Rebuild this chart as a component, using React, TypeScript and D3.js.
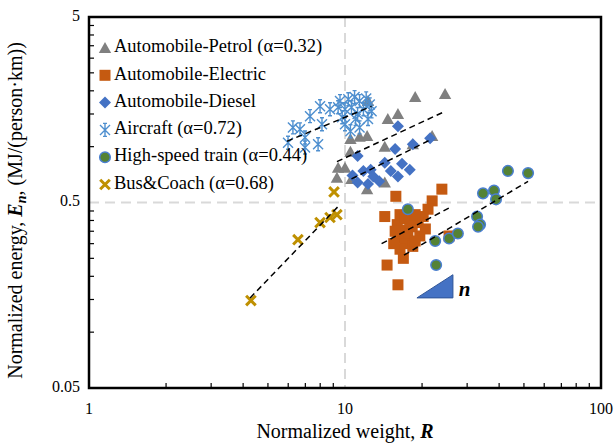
import * as d3 from "d3";

// [R, E] pairs
const petrol: [number, number][] = [
  [12.3, 1.76], [18.8, 1.85], [24.6, 1.92], [14.7, 1.41], [16.1, 1.5], [10.5, 1.1],
  [11.4, 1.13], [12.2, 1.14], [14.3, 1.0], [18.4, 1.03], [21.9, 1.14], [10.5, 0.94],
  [9.4, 0.77], [10.0, 0.77], [9.3, 0.68], [14.3, 0.64], [12.2, 0.59], [10.6, 0.67],
];
const electric: [number, number][] = [
  [23.9, 0.59], [15.8, 0.54], [14.3, 0.42], [21.9, 0.51], [21.1, 0.46], [20.2, 0.42],
  [19.3, 0.39], [18.3, 0.37], [16.0, 0.38], [16.7, 0.355], [17.6, 0.33], [16.1, 0.32],
  [17.2, 0.3], [18.4, 0.29], [19.6, 0.33], [16.4, 0.28], [16.9, 0.25], [15.5, 0.3],
  [14.6, 0.23], [16.1, 0.18], [25.5, 0.33], [20.6, 0.36], [16.4, 0.43], [17.9, 0.39],
  [15.7, 0.35], [18.8, 0.31], [17.2, 0.41], [18.8, 0.43],
];
const diesel: [number, number][] = [
  [16.1, 1.29], [21.5, 1.11], [18.4, 1.03], [15.7, 0.97], [11.2, 0.89], [16.7, 0.81],
  [17.9, 0.75], [14.3, 0.82], [15.1, 0.74], [16.1, 0.69], [10.7, 0.7], [11.8, 0.74],
  [12.6, 0.75], [12.9, 0.69], [13.6, 0.65], [11.2, 0.64], [12.3, 0.63],
];
const aircraft: [number, number][] = [
  [5.99, 1.05], [6.26, 1.27], [6.67, 1.24], [6.98, 1.12], [6.98, 0.99], [7.3, 1.46],
  [7.85, 1.03], [7.99, 1.65], [8.13, 1.32], [8.74, 1.59], [9.56, 1.76], [10.0, 1.59],
  [10.3, 1.8], [10.6, 1.63], [10.9, 1.85], [11.2, 1.5], [11.4, 1.76], [11.8, 1.59],
  [12.1, 1.82], [12.5, 1.69], [12.7, 1.55], [10.0, 1.32], [10.5, 1.21], [11.4, 1.27],
  [9.75, 1.44], [11.0, 1.41], [12.3, 1.41], [9.4, 1.63],
];
const train: [number, number][] = [
  [17.6, 0.46], [22.5, 0.31], [22.7, 0.23], [25.5, 0.32], [27.6, 0.34], [32.8, 0.42],
  [33.7, 0.38], [33.1, 0.37], [34.6, 0.56], [38.2, 0.58], [38.9, 0.52], [43.3, 0.74],
  [51.9, 0.72],
];
const bus: [number, number][] = [
  [4.29, 0.148], [6.55, 0.315], [7.99, 0.39], [8.74, 0.415], [9.3, 0.43], [9.06, 0.57],
];

// fitted trend lines (end points)
const petrolFit = [[9.3, 0.83], [24.1, 1.53]];
const electricFit = [[13.9, 0.3], [25.7, 0.47]];
const dieselFit = [[10.6, 0.67], [21.9, 1.1]];
const aircraftFit = [[5.94, 1.07], [12.7, 1.65]];
const trainFit = [[17.0, 0.26], [51.9, 0.65]];
const busFit = [[4.26, 0.153], [9.39, 0.475]];

const legendLabels = [
  "Automobile-Petrol (α=0.32)",
  "Automobile-Electric",
  "Automobile-Diesel",
  "Aircraft (α=0.72)",
  "High-speed train (α=0.44)",
  "Bus&Coach (α=0.68)",
];
const xTicks = [1, 10, 100];
const yTicks = [0.05, 0.5, 5];
const slopeTri = [[19.1, 0.153], [26.4, 0.204], [26.4, 0.153]];

const FONT = "'Liberation Serif', 'Times New Roman', serif";
const C = {
  petrol: "#808080",
  electric: "#C55A11",
  diesel: "#4472C4",
  aircraft: "#4E8FCF",
  trainFill: "#548235",
  trainStroke: "#4A7FD0",
  bus: "#BF9000",
};

function Marker({ kind, cx, cy }: { kind: number; cx: number; cy: number }) {
  const t = `translate(${cx},${cy})`;
  switch (kind) {
    case 0:
      return <path transform={t} d="M0,-6L6.2,5L-6.2,5Z" fill={C.petrol} />;
    case 1:
      return <rect x={cx - 5.5} y={cy - 5.5} width={11} height={11} fill={C.electric} />;
    case 2:
      return <path transform={t} d="M0,-6L6,0L0,6L-6,0Z" fill={C.diesel} />;
    case 3:
      return (
        <path transform={t} d="M-5,-5L5,5M-5,5L5,-5M0,-6.5L0,6.5M-2,-6.5L2,-6.5M-2,6.5L2,6.5"
          stroke={C.aircraft} strokeWidth={1.4} fill="none" />
      );
    case 4:
      return <circle cx={cx} cy={cy} r={5.3} fill={C.trainFill} stroke={C.trainStroke} strokeWidth={1.5} />;
    default:
      return (
        <path transform={t} d="M-4.8,-4.8L4.8,4.8M-4.8,4.8L4.8,-4.8"
          stroke={C.bus} strokeWidth={3} fill="none" />
      );
  }
}

export default function App() {
  const left = 89, right = 601, top = 17, bottom = 388;
  const x = d3.scaleLog().domain([1, 100]).range([left, right]);
  const y = d3.scaleLog().domain([0.05, 5]).range([bottom, top]);

  const series = [petrol, electric, diesel, aircraft, train, bus];
  const fits = [petrolFit, electricFit, dieselFit, aircraftFit, trainFit, busFit];

  const xMinor: number[] = [];
  [1, 10].forEach((d) => d3.range(2, 10).forEach((k) => xMinor.push(d * k)));
  const yMinor: number[] = [];
  [0.05, 0.5].forEach((d) => d3.range(2, 10).forEach((k) => yMinor.push(d * k)));

  const line = d3.line<number[]>().x((d) => x(d[0])).y((d) => y(d[1]));

  return (
    <svg width={616} height={446} style={{ position: "absolute", left: 0, top: 0, background: "#fff" }}
      fontFamily={FONT}>
      {/* reference dashed lines */}
      <line x1={x(10)} x2={x(10)} y1={top} y2={bottom} stroke="#D9D9D9" strokeWidth={2} strokeDasharray="10,6" />
      <line x1={left} x2={right} y1={y(0.5)} y2={y(0.5)} stroke="#D9D9D9" strokeWidth={2} strokeDasharray="10,6" />

      {series.map((s, i) => (
        <g key={i}>
          {s.map((d, j) => (
            <Marker key={j} kind={i} cx={x(d[0])} cy={y(d[1])} />
          ))}
        </g>
      ))}

      {fits.map((f, i) => (
        <path key={i} d={line(f) || ""} stroke="#000" strokeWidth={1.5} strokeDasharray="6,4" fill="none" />
      ))}

      {/* slope triangle */}
      <path d={line(slopeTri) + "Z"} fill="#4472C4" stroke="#2F5597" strokeWidth={1} />
      <text x={x(27.8)} y={y(0.166)} fontSize={21} fontWeight="bold" fontStyle="italic" dominantBaseline="middle">n</text>

      {/* frame + ticks */}
      <rect x={left} y={top} width={right - left} height={bottom - top} fill="none" stroke="#000" strokeWidth={2.5} />
      {xMinor.map((v) => (
        <line key={v} x1={x(v)} x2={x(v)} y1={bottom} y2={bottom - 5} stroke="#000" strokeWidth={1.2} />
      ))}
      {yMinor.map((v) => (
        <line key={v} x1={left} x2={left + 5} y1={y(v)} y2={y(v)} stroke="#000" strokeWidth={1.2} />
      ))}
      {xTicks.map((v) => (
        <text key={v} x={x(v)} y={bottom + 26} fontSize={16} textAnchor="middle">{v}</text>
      ))}
      {yTicks.map((v) => (
        <text key={v} x={left - 9} y={y(v)} fontSize={16} textAnchor="end" dominantBaseline="middle">{v}</text>
      ))}

      {/* axis titles */}
      <text x={(left + right) / 2} y={438} fontSize={20} textAnchor="middle">
        Normalized weight, <tspan fontStyle="italic" fontWeight="bold">R</tspan>
      </text>
      <text transform={`translate(22,${(top + bottom) / 2 + 8}) rotate(-90)`} fontSize={20} textAnchor="middle">
        Normalized energy, <tspan fontStyle="italic" fontWeight="bold">E</tspan>
        <tspan fontStyle="italic" fontWeight="bold" fontSize={14} dy={4}>n</tspan>
        <tspan dy={-4}>, (MJ/(person·km))</tspan>
      </text>

      {/* legend */}
      {legendLabels.map((l, i) => (
        <g key={l}>
          <Marker kind={i} cx={105} cy={48 + i * 27.3} />
          <text x={114} y={48 + i * 27.3} fontSize={18.5} dominantBaseline="middle">{l}</text>
        </g>
      ))}
    </svg>
  );
}
